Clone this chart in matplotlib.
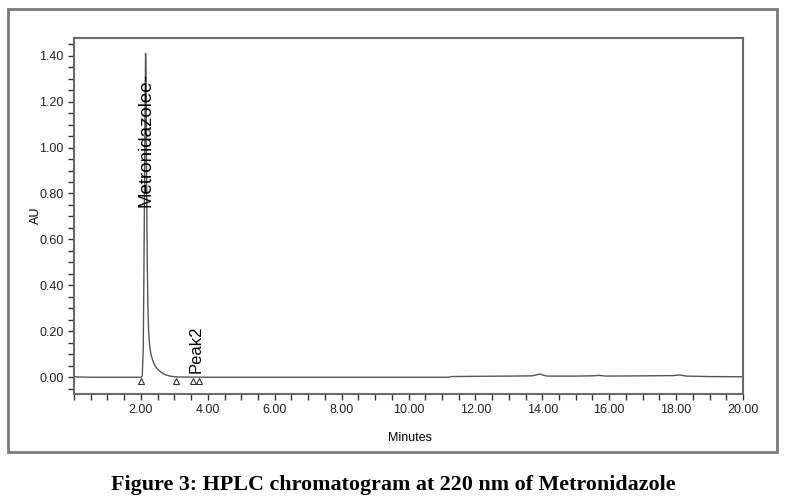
import numpy as np
import matplotlib.pyplot as plt
from matplotlib.patches import Rectangle
from matplotlib.ticker import MultipleLocator, FormatStrFormatter

# chromatogram trace (minutes, AU)
minutes = [0.0, 0.1, 0.5, 1.0, 1.5, 1.9, 2.0, 2.04, 2.07, 2.09, 2.11, 2.125, 2.14,
           2.155, 2.17, 2.19, 2.21, 2.23, 2.26, 2.3, 2.36, 2.42, 2.5, 2.62, 2.75,
           2.9, 3.1, 4.0, 6.0, 8.0, 10.0, 11.2, 11.3, 12.0, 13.0, 13.7, 13.85,
           13.93, 14.0, 14.15, 15.0, 15.5, 15.7, 15.9, 17.0, 17.9, 18.1, 18.3,
           19.0, 20.0]
absorb = [0.003, 0.001, 0.0, 0.0, 0.0, 0.0, 0.0, 0.005, 0.12, 0.45, 0.85, 1.2, 1.41,
          1.3, 0.85, 0.5, 0.3, 0.2, 0.14, 0.1, 0.07, 0.05, 0.035, 0.02, 0.01,
          0.004, 0.001, 0.0, 0.0, 0.0, 0.0, 0.0, 0.003, 0.004, 0.005, 0.006, 0.011,
          0.014, 0.01, 0.005, 0.005, 0.006, 0.008, 0.005, 0.006, 0.007, 0.01, 0.005,
          0.003, 0.002]

# integration baseline markers
marker_t = [2.0, 3.05, 3.57, 3.73]
marker_y = [-0.016, -0.016, -0.016, -0.016]

peak_names = ["Metronidazolee-", "Peak2"]
peak_t = [2.15, 3.65]
peak_y = [0.74, 0.02]
peak_size = [13.5, 12]

plt.rcParams['font.family'] = ['Liberation Sans', 'DejaVu Sans']

fig = plt.figure(figsize=(7.86, 5.04), dpi=100)
fig.patches.append(Rectangle((8/786, 1-452/504), 769/786, 443/504, transform=fig.transFigure,
                             fill=False, edgecolor='#7a7a7a', linewidth=2))

ax = fig.add_axes([74/786, 1-394/504, 669/786, 356/504])
ax.plot(minutes, absorb, color='#555555', linewidth=1)
ax.plot(marker_t, marker_y, '^', markersize=5, markerfacecolor='white',
        markeredgecolor='#333333', markeredgewidth=0.8, linestyle='none')

for name, t, y, fs in zip(peak_names, peak_t, peak_y, peak_size):
    ax.text(t, y, name, rotation=90, ha='center', va='bottom', fontsize=fs, color='black')

ax.set_xlim(0, 20)
ax.xaxis.set_minor_locator(MultipleLocator(0.5))
ax.yaxis.set_major_locator(MultipleLocator(0.2))
ax.yaxis.set_minor_locator(MultipleLocator(0.05))
ax.xaxis.set_major_formatter(FormatStrFormatter('%.2f'))
ax.yaxis.set_major_formatter(FormatStrFormatter('%.2f'))
ax.set_xticks(np.arange(2, 20.01, 2))
ax.set_ylim(-0.073, 1.477)
ax.tick_params(which='both', direction='out', length=4, width=1, color='#333333',
               labelsize=9, labelcolor='#222222')
for s in ax.spines.values():
    s.set_color('#6a6a6a')
    s.set_linewidth(1.5)

ax.set_xlabel('Minutes', fontsize=9)
ax.set_ylabel('AU', fontsize=9)
ax.xaxis.set_label_coords(336/669, -38/356)
ax.yaxis.set_label_coords(-32/669, 179/356)

fig.text(0.5, 1-485/504, 'Figure 3: HPLC chromatogram at 220 nm of Metronidazole',
         ha='center', va='center', fontsize=15.8, fontweight='bold',
         family=['Liberation Serif', 'DejaVu Serif'])

fig.savefig('out.png', dpi=100)
